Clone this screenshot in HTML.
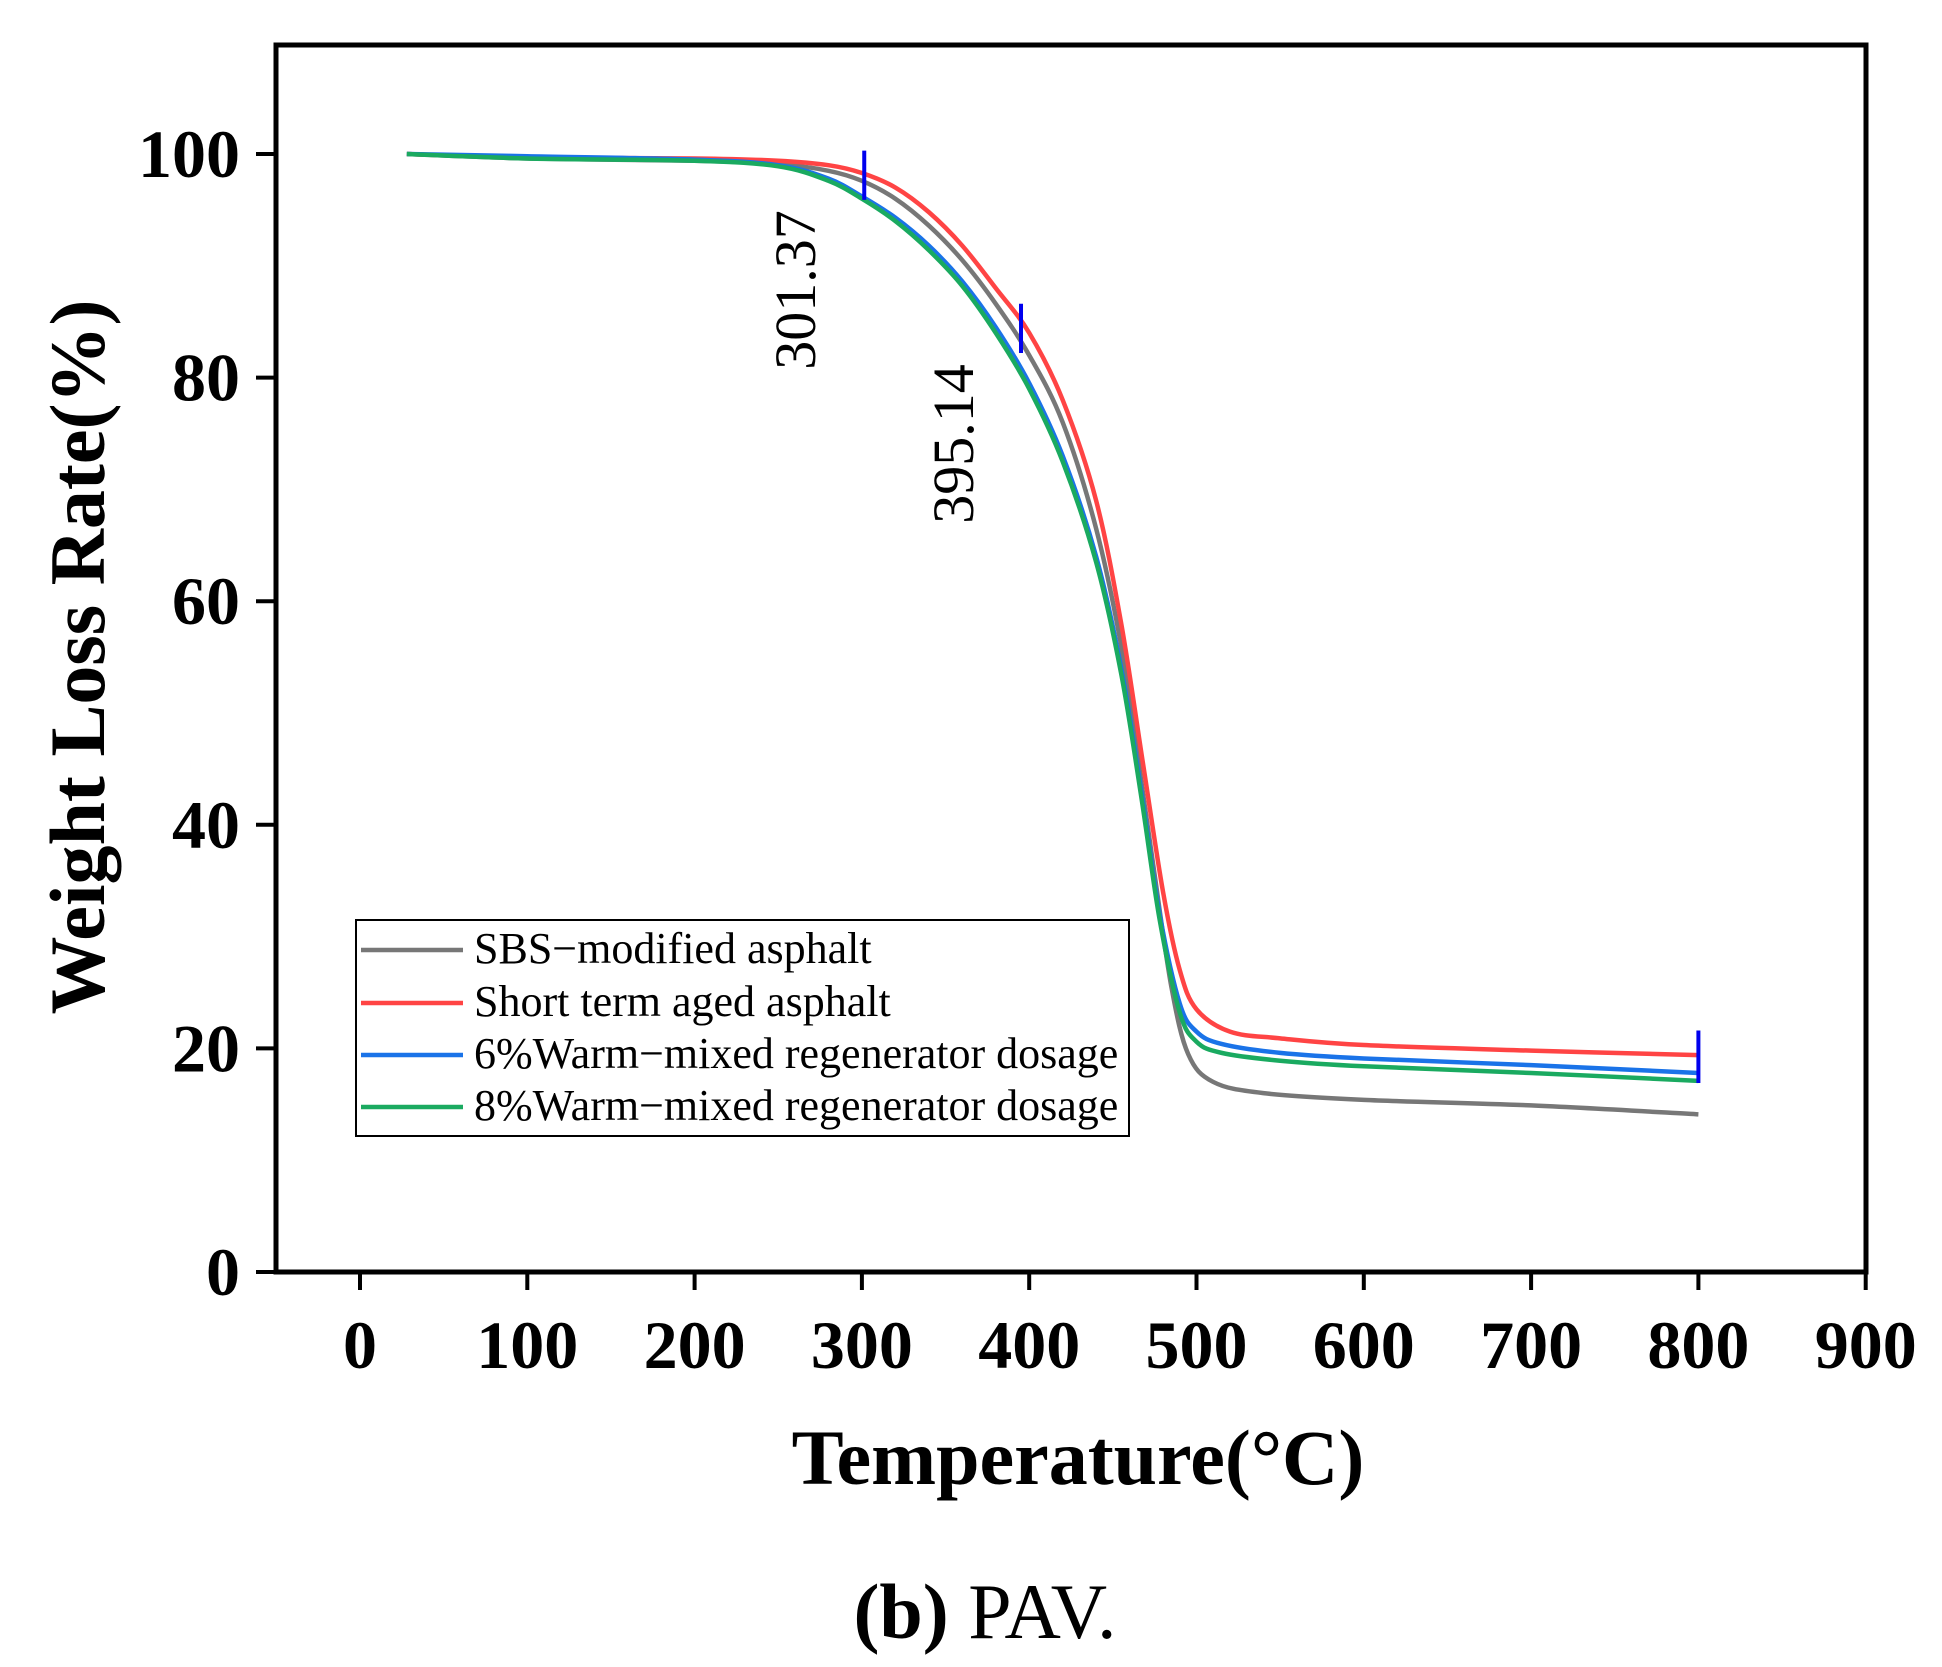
<!DOCTYPE html>
<html><head><meta charset="utf-8"><style>
html,body{margin:0;padding:0;background:#fff;}
svg{display:block;}
text{font-family:"Liberation Serif",serif;}
</style></head><body>
<svg id="s" width="1942" height="1667" viewBox="0 0 1942 1667" xmlns="http://www.w3.org/2000/svg">
<rect x="0" y="0" width="1942" height="1667" fill="#fff"/>
<g id="curves" fill="none" stroke-width="4.5" stroke-linejoin="round"></g>
<g stroke="#0000ee" stroke-width="4">
<line id="m1" x1="0" y1="0" x2="0" y2="0"/>
<line id="m2" x1="0" y1="0" x2="0" y2="0"/>
<line id="m3" x1="0" y1="0" x2="0" y2="0"/>
</g>
<rect x="276" y="45" width="1590" height="1227" fill="none" stroke="#000" stroke-width="5"/>
<g id="ticks" stroke="#000" stroke-width="4"></g>
<g id="labels" font-weight="bold" font-size="68" fill="#000"></g>
<text x="1078" y="1484" font-size="78" font-weight="bold" text-anchor="middle">Temperature(°C)</text>
<text transform="translate(104,657) rotate(-90)" font-size="78" font-weight="bold" text-anchor="middle">Weight Loss Rate(%)</text>
<text x="985" y="1638" font-size="78" text-anchor="middle"><tspan font-weight="bold">(b)</tspan> PAV.</text>
<text transform="translate(815,290) rotate(-90)" font-size="58" text-anchor="middle">301.37</text>
<text transform="translate(973,444) rotate(-90)" font-size="58" text-anchor="middle">395.14</text>
<rect x="356" y="920" width="773" height="216" fill="#fff" stroke="#000" stroke-width="2"/>
<g stroke-width="4.5">
<line x1="361" y1="950" x2="463" y2="950" stroke="#777"/>
<line x1="361" y1="1003" x2="463" y2="1003" stroke="#f44"/>
<line x1="361" y1="1055" x2="463" y2="1055" stroke="#1a73e8"/>
<line x1="361" y1="1107" x2="463" y2="1107" stroke="#1aaa60"/>
</g>
<g font-size="44" fill="#000">
<text x="474" y="963">SBS−modified asphalt</text>
<text x="474" y="1016">Short term aged asphalt</text>
<text x="474" y="1068">6%Warm−mixed regenerator dosage</text>
<text x="474" y="1120">8%Warm−mixed regenerator dosage</text>
</g>
</svg>
<script>
var X=function(v){return 360+v*1.673;}, Y=function(v){return 1272-v*11.18;};
var ns="http://www.w3.org/2000/svg";
var T=document.getElementById('ticks'),L=document.getElementById('labels');
function el(p,n,a){var e=document.createElementNS(ns,n);for(var k in a)e.setAttribute(k,a[k]);p.appendChild(e);return e;}
for(var i=0;i<=900;i+=100){el(T,'line',{x1:X(i),y1:1272,x2:X(i),y2:1290});var t=el(L,'text',{x:X(i),y:1368,'text-anchor':'middle'});t.textContent=i;}
for(var j=0;j<=100;j+=20){el(T,'line',{x1:276,y1:Y(j),x2:256,y2:Y(j)});var t=el(L,'text',{x:240,y:Y(j)+23,'text-anchor':'end'});t.textContent=j;}
var data=[
["#777",[[28,100],[100,99.6],[200,99.4],[250,99.1],[280,98.5],[300,97.6],[320,96],[340,93.6],[360,90.5],[380,86.6],[400,82],[420,76],[440,66.5],[455,56],[465,46],[475,35.5],[485,25.5],[495,19.5],[510,17],[540,16],[600,15.4],[700,14.9],[800,14.1]]],
["#f44",[[28,100],[100,99.7],[200,99.6],[250,99.4],[280,99],[300,98.3],[320,97],[340,94.8],[360,91.8],[380,88],[400,84],[420,78],[440,69],[455,58],[468,45.5],[480,34],[490,27],[500,23.5],[520,21.5],[550,20.9],[600,20.3],[700,19.8],[800,19.4]]],
["#1a73e8",[[28,100],[100,99.8],[200,99.5],[250,99],[280,97.8],[300,96.2],[320,94.3],[340,91.8],[360,88.6],[380,84.5],[400,79.5],[420,73],[440,64],[455,54],[467,43],[478,32],[490,24],[500,21.5],[515,20.4],[550,19.6],[600,19.1],[700,18.5],[800,17.8]]],
["#1aaa60",[[28,100],[100,99.6],[200,99.4],[250,98.9],[280,97.6],[300,96],[320,94],[340,91.4],[360,88.2],[380,84],[400,79],[420,72.5],[440,63.5],[455,53.5],[467,42.5],[478,31.5],[490,23.2],[500,20.6],[515,19.6],[550,18.9],[600,18.4],[700,17.8],[800,17.1]]]];
var G=document.getElementById('curves');
data.forEach(function(d){var p=d[1].map(function(q){return [X(q[0]),Y(q[1])];});
var s="M"+p[0][0]+","+p[0][1];
for(var i=0;i<p.length-1;i++){var p0=p[i-1]||p[i],p1=p[i],p2=p[i+1],p3=p[i+2]||p2;
s+=" C"+(p1[0]+(p2[0]-p0[0])/6)+","+(p1[1]+(p2[1]-p0[1])/6)+" "+(p2[0]-(p3[0]-p1[0])/6)+","+(p2[1]-(p3[1]-p1[1])/6)+" "+p2[0]+","+p2[1];}
el(G,'path',{d:s,stroke:d[0]});});
function m(id,x,a,b){var e=document.getElementById(id);e.setAttribute('x1',X(x));e.setAttribute('x2',X(x));e.setAttribute('y1',Y(a));e.setAttribute('y2',Y(b));}
m('m1',301.4,100.3,95.9);m('m2',395.1,86.6,82.2);m('m3',800,21.6,16.9);
</script>
</body></html>
